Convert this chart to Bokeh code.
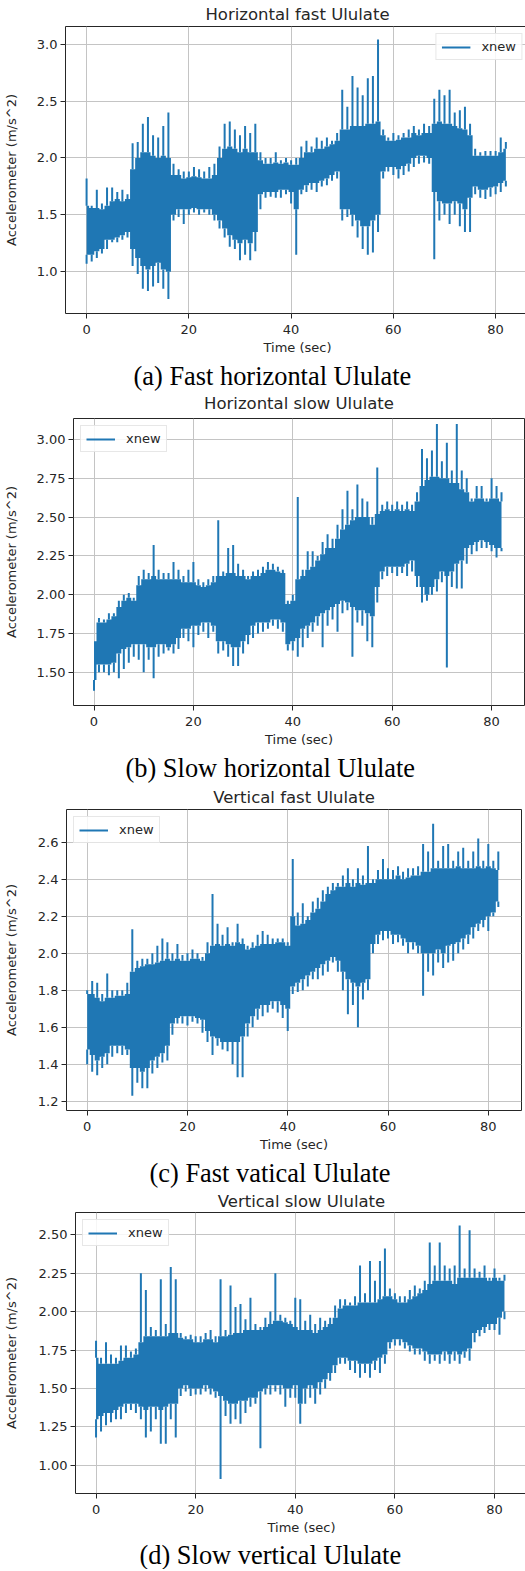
from bokeh.plotting import figure
from bokeh.layouts import column
from bokeh.models import Range1d, FixedTicker, Title, Legend, LegendItem, PrintfTickFormatter
from bokeh.embed import file_html
from bokeh.resources import INLINE

time_sec = list(range(83))
x_ticks = [0, 20, 40, 60, 80]

# (a) Horizontal fast Ululate
a_hi = [1.82,1.58,1.72,1.60,1.74,1.74,1.70,1.72,1.68,2.13, 2.14,2.30,2.36,2.20,2.18,2.28,2.40,1.95,1.90,1.88,
        1.88,1.92,1.90,1.88,1.92,1.95,2.10,2.30,2.32,2.25, 2.20,2.28,2.22,2.30,2.05,2.00,2.00,2.05,1.98,2.00,
        1.98,2.00,2.10,2.15,2.10,2.18,2.15,2.18,2.15,2.22, 2.60,2.45,2.72,2.62,2.55,2.70,2.72,3.04,2.25,2.18,
        2.22,2.20,2.22,2.25,2.28,2.25,2.30,2.28,2.52,2.60, 2.55,2.60,2.40,2.42,2.45,2.30,2.08,2.05,2.06,2.06,
        2.06,2.18,2.14]
a_top = [1.58,1.56,1.56,1.55,1.58,1.62,1.64,1.62,1.64,1.90, 2.00,2.05,2.05,2.02,2.00,2.02,2.00,1.85,1.85,1.82,
         1.83,1.84,1.83,1.82,1.82,1.85,2.00,2.08,2.10,2.08, 2.05,2.08,2.05,2.05,1.98,1.95,1.95,1.96,1.95,1.96,
         1.94,1.94,2.00,2.05,2.05,2.08,2.08,2.10,2.12,2.15, 2.25,2.25,2.28,2.28,2.28,2.30,2.30,2.32,2.20,2.15,
         2.15,2.16,2.18,2.18,2.22,2.20,2.22,2.22,2.30,2.32, 2.30,2.30,2.28,2.26,2.25,2.20,2.02,2.02,2.02,2.02,
         2.02,2.05,2.08]
a_bot = [1.15,1.15,1.18,1.20,1.28,1.28,1.30,1.32,1.35,1.20, 1.12,1.05,1.02,1.05,1.08,1.02,1.00,1.50,1.55,1.55,
         1.55,1.56,1.55,1.55,1.55,1.50,1.45,1.38,1.32,1.28, 1.25,1.28,1.25,1.35,1.68,1.70,1.70,1.70,1.72,1.72,
         1.70,1.55,1.72,1.76,1.78,1.78,1.80,1.82,1.85,1.88, 1.55,1.55,1.50,1.45,1.40,1.40,1.45,1.50,1.88,1.92,
         1.92,1.90,1.93,1.95,2.00,2.02,2.02,2.00,1.70,1.62, 1.60,1.60,1.62,1.60,1.55,1.65,1.75,1.72,1.72,1.74,
         1.75,1.78,1.80]
a_lo = [1.07,1.09,1.12,1.16,1.20,1.26,1.26,1.28,1.30,1.05, 0.98,0.85,0.83,0.87,0.90,0.85,0.76,1.45,1.48,1.42,
        1.50,1.52,1.50,1.52,1.50,1.45,1.38,1.30,1.22,1.20, 1.10,1.15,1.10,1.18,1.55,1.65,1.66,1.65,1.65,1.68,
        1.60,1.15,1.68,1.70,1.72,1.70,1.75,1.76,1.80,1.82, 1.45,1.48,1.40,1.30,1.20,1.15,1.17,1.35,1.82,1.88,
        1.85,1.82,1.85,1.88,1.92,1.95,1.96,1.95,1.11,1.45, 1.50,1.42,1.50,1.40,1.35,1.35,1.68,1.65,1.64,1.66,
        1.68,1.70,1.75]
a_yticks = [1.0, 1.5, 2.0, 2.5, 3.0]
a_ylabels = ["1.0", "1.5", "2.0", "2.5", "3.0"]

# (b) Horizontal slow Ululate
b_hi = [1.70,1.85,1.84,1.88,1.88,1.96,2.00,2.01,1.98,2.12, 2.16,2.14,2.32,2.16,2.14,2.14,2.21,2.16,2.12,2.16,
        2.21,2.10,2.08,2.10,2.12,2.48,2.15,2.30,2.32,2.20, 2.16,2.12,2.15,2.16,2.18,2.21,2.20,2.18,2.16,1.96,
        2.00,2.63,2.16,2.28,2.28,2.25,2.34,2.39,2.36,2.45, 2.55,2.67,2.55,2.71,2.62,2.60,2.50,2.82,2.58,2.60,
        2.58,2.60,2.58,2.60,2.58,2.66,2.94,2.88,2.93,3.10, 2.86,2.98,2.80,3.10,2.80,2.75,2.62,2.70,2.70,2.62,
        2.75,2.70,2.66]
b_top = [1.70,1.82,1.82,1.84,1.86,1.92,1.96,1.98,1.96,2.06, 2.10,2.10,2.12,2.10,2.10,2.10,2.10,2.10,2.08,2.08,
         2.08,2.06,2.05,2.06,2.08,2.12,2.12,2.14,2.14,2.12, 2.12,2.10,2.12,2.12,2.14,2.16,2.16,2.15,2.14,1.94,
         1.96,2.10,2.12,2.16,2.18,2.22,2.26,2.30,2.30,2.36, 2.42,2.45,2.48,2.50,2.50,2.50,2.45,2.52,2.54,2.55,
         2.54,2.55,2.54,2.55,2.54,2.60,2.70,2.74,2.76,2.76, 2.75,2.75,2.72,2.72,2.68,2.66,2.60,2.62,2.62,2.60,
         2.62,2.62,2.60]
b_bot = [1.45,1.55,1.55,1.55,1.56,1.62,1.65,1.66,1.68,1.68, 1.68,1.66,1.66,1.68,1.68,1.66,1.68,1.72,1.78,1.78,
         1.80,1.80,1.82,1.82,1.80,1.70,1.70,1.68,1.66,1.66, 1.70,1.74,1.80,1.82,1.82,1.82,1.84,1.84,1.82,1.68,
         1.70,1.72,1.78,1.80,1.82,1.86,1.88,1.90,1.92,1.94, 1.96,1.95,1.92,1.90,1.90,1.88,1.86,2.05,2.15,2.18,
         2.18,2.18,2.18,2.20,2.22,2.12,2.05,2.00,2.05,2.10, 2.15,2.12,2.15,2.20,2.22,2.30,2.32,2.34,2.35,2.34,
         2.32,2.30,2.30]
b_lo = [1.38,1.50,1.50,1.48,1.50,1.46,1.52,1.56,1.60,1.58, 1.50,1.58,1.46,1.60,1.62,1.64,1.62,1.65,1.72,1.70,
        1.66,1.74,1.76,1.72,1.76,1.62,1.64,1.60,1.54,1.54, 1.62,1.68,1.72,1.75,1.76,1.78,1.80,1.78,1.76,1.64,
        1.64,1.60,1.66,1.72,1.76,1.80,1.66,1.80,1.84,1.76, 1.88,1.90,1.60,1.82,1.80,1.70,1.66,1.95,2.10,2.12,
        2.14,2.12,2.14,2.12,2.15,2.05,1.95,1.96,2.00,2.02, 2.08,1.53,2.05,2.04,2.04,2.20,2.26,2.28,2.30,2.30,
        2.28,2.24,2.28]
b_yticks = [1.5, 1.75, 2.0, 2.25, 2.5, 2.75, 3.0]
b_ylabels = ["1.50", "1.75", "2.00", "2.25", "2.50", "2.75", "3.00"]

# (c) Vertical fast Ululate
c_hi = [1.80,1.85,1.84,1.78,1.89,1.80,1.80,1.80,1.84,2.13, 1.96,1.97,1.97,2.00,2.04,2.08,2.06,2.00,2.05,1.99,
        2.00,2.02,2.00,1.98,2.06,2.32,2.16,2.10,2.14,2.06, 2.16,2.08,2.04,2.06,2.10,2.12,2.10,2.08,2.08,2.08,
        2.06,2.51,2.22,2.27,2.20,2.28,2.30,2.34,2.36,2.38, 2.38,2.42,2.46,2.40,2.46,2.42,2.58,2.40,2.45,2.51,
        2.46,2.45,2.47,2.44,2.46,2.46,2.47,2.59,2.55,2.70, 2.50,2.58,2.59,2.50,2.55,2.57,2.50,2.55,2.62,2.50,
        2.59,2.50,2.55]
c_top = [1.78,1.78,1.76,1.74,1.76,1.76,1.77,1.77,1.78,1.90, 1.92,1.93,1.94,1.94,1.95,1.96,1.97,1.96,1.97,1.96,
         1.96,1.97,1.97,1.96,2.00,2.04,2.05,2.04,2.05,2.04, 2.06,2.05,2.02,2.03,2.04,2.05,2.05,2.05,2.06,2.06,
         2.04,2.20,2.15,2.16,2.18,2.22,2.24,2.28,2.32,2.34, 2.36,2.36,2.38,2.36,2.38,2.37,2.38,2.38,2.40,2.40,
         2.40,2.40,2.42,2.40,2.41,2.42,2.42,2.44,2.44,2.46, 2.46,2.46,2.46,2.46,2.47,2.46,2.46,2.46,2.47,2.46,
         2.47,2.46,2.45]
c_bot = [1.48,1.45,1.42,1.44,1.46,1.50,1.50,1.50,1.48,1.38, 1.38,1.36,1.38,1.42,1.44,1.46,1.50,1.62,1.65,1.66,
         1.66,1.66,1.65,1.64,1.58,1.55,1.54,1.52,1.52,1.52, 1.52,1.55,1.62,1.66,1.70,1.72,1.72,1.74,1.74,1.72,
         1.70,1.82,1.84,1.86,1.88,1.90,1.92,1.94,1.96,1.98, 1.96,1.90,1.86,1.84,1.82,1.84,1.86,2.05,2.10,2.12,
         2.12,2.10,2.10,2.08,2.06,2.06,2.04,2.00,2.00,2.00, 2.02,2.00,2.04,2.05,2.06,2.08,2.10,2.14,2.16,2.18,
         2.20,2.22,2.28]
c_lo = [1.40,1.36,1.34,1.38,1.40,1.44,1.46,1.45,1.45,1.23, 1.30,1.27,1.27,1.35,1.38,1.41,1.42,1.56,1.62,1.62,
        1.61,1.63,1.62,1.57,1.52,1.45,1.50,1.48,1.47,1.40, 1.33,1.33,1.55,1.60,1.64,1.66,1.68,1.70,1.68,1.65,
        1.58,1.78,1.79,1.80,1.82,1.86,1.86,1.88,1.90,1.95, 1.90,1.80,1.67,1.72,1.60,1.75,1.80,2.00,2.05,2.07,
        2.08,2.05,2.06,2.04,2.00,2.02,2.00,1.77,1.90,1.88, 1.95,1.92,1.95,1.96,2.00,2.02,2.05,2.08,2.12,2.14,
        2.12,2.20,2.25]
c_yticks = [1.2, 1.4, 1.6, 1.8, 2.0, 2.2, 2.4, 2.6]
c_ylabels = ["1.2", "1.4", "1.6", "1.8", "2.0", "2.2", "2.4", "2.6"]

# (d) Vertical slow Ululate
d_hi = [1.81,1.70,1.80,1.72,1.70,1.78,1.78,1.74,1.76,2.25, 2.14,1.90,1.88,2.21,1.92,2.29,2.21,1.86,1.84,1.85,
        1.84,1.84,1.86,1.88,1.84,2.21,1.88,2.17,2.03,2.05, 1.95,2.09,1.92,1.90,1.96,2.00,2.25,1.98,1.96,1.94,
        2.09,2.08,1.94,1.98,1.92,1.96,1.94,1.96,2.04,2.08, 2.08,2.06,2.10,2.30,2.12,2.33,2.20,2.33,2.41,2.15,
        2.12,2.10,2.10,2.14,2.17,2.15,2.20,2.45,2.30,2.45, 2.30,2.28,2.30,2.56,2.28,2.53,2.28,2.26,2.30,2.22,
        2.28,2.22,2.24]
d_top = [1.70,1.66,1.66,1.66,1.66,1.68,1.70,1.70,1.72,1.80, 1.84,1.84,1.84,1.84,1.84,1.86,1.86,1.83,1.82,1.82,
         1.80,1.80,1.82,1.82,1.80,1.84,1.84,1.85,1.86,1.86, 1.88,1.88,1.88,1.88,1.90,1.92,1.94,1.94,1.93,1.92,
         1.90,1.88,1.88,1.88,1.86,1.88,1.90,1.92,1.96,2.02, 2.04,2.04,2.04,2.06,2.06,2.06,2.06,2.08,2.10,2.10,
         2.08,2.06,2.06,2.08,2.10,2.12,2.14,2.18,2.20,2.20, 2.20,2.20,2.18,2.22,2.22,2.22,2.22,2.22,2.22,2.20,
         2.22,2.20,2.20]
d_bot = [1.30,1.32,1.34,1.34,1.36,1.38,1.40,1.40,1.40,1.38, 1.36,1.38,1.38,1.36,1.38,1.40,1.40,1.50,1.52,1.50,
         1.50,1.50,1.52,1.50,1.48,1.45,1.42,1.40,1.40,1.42, 1.42,1.44,1.44,1.48,1.50,1.52,1.52,1.52,1.50,1.50,
         1.52,1.40,1.50,1.52,1.50,1.54,1.56,1.60,1.65,1.70, 1.70,1.68,1.68,1.66,1.66,1.66,1.68,1.70,1.72,1.80,
         1.82,1.82,1.80,1.78,1.76,1.76,1.74,1.72,1.72,1.72, 1.74,1.72,1.74,1.72,1.74,1.76,1.86,1.88,1.90,1.92,
         1.92,1.96,2.00]
d_lo = [1.18,1.22,1.26,1.28,1.30,1.30,1.34,1.36,1.34,1.30, 1.18,1.22,1.30,1.14,1.14,1.30,1.18,1.45,1.48,1.45,
        1.46,1.46,1.48,1.46,1.44,0.91,1.32,1.27,1.30,1.27, 1.34,1.38,1.40,1.11,1.46,1.46,1.48,1.46,1.38,1.44,
        1.44,1.27,1.40,1.44,1.40,1.46,1.50,1.55,1.60,1.66, 1.66,1.62,1.60,1.57,1.60,1.57,1.62,1.60,1.66,1.76,
        1.78,1.78,1.76,1.74,1.72,1.72,1.68,1.66,1.68,1.66, 1.68,1.66,1.68,1.66,1.70,1.68,1.80,1.84,1.86,1.88,
        1.88,1.85,1.95]
d_yticks = [1.0, 1.25, 1.5, 1.75, 2.0, 2.25, 2.5]
d_ylabels = ["1.00", "1.25", "1.50", "1.75", "2.00", "2.25", "2.50"]

titles = ["Horizontal fast Ululate", "Horizontal slow Ululate",
          "Vertical fast Ululate", "Vertical slow Ululate"]
captions = ["(a) Fast horizontal Ululate", "(b) Slow horizontal Ululate",
            "(c) Fast vatical Ululate", "(d) Slow vertical Ululate"]

BLUE = "#1f77b4"
TXT = "#262626"

panels = [
    dict(hi=a_hi, top=a_top, bot=a_bot, lo=a_lo, yt=a_yticks, yl=a_ylabels, fmt="%.1f",
         yr=(0.633, 3.155), fw=464, fh=287, bl=61, br=0, bt=26, bb=45,
         leg="top_right", t_va="bottom", t_sd=4.5, prev_off=None, ystd=15),
    dict(hi=b_hi, top=b_top, bot=b_bot, lo=b_lo, yt=b_yticks, yl=b_ylabels, fmt="%.2f",
         yr=(1.285, 3.136), fw=451, fh=287, bl=69, br=5, bt=60, bb=45,
         leg="top_left", t_va="top", t_sd=7, prev_off=60, ystd=15),
    dict(hi=c_hi, top=c_top, bot=c_bot, lo=c_lo, yt=c_yticks, yl=c_ylabels, fmt="%.1f",
         yr=(1.15, 2.777), fw=455, fh=301, bl=64, br=6, bt=59, bb=45,
         leg="top_left", t_va="bottom", t_sd=6, prev_off=59, ystd=16),
    dict(hi=d_hi, top=d_top, bot=d_bot, lo=d_lo, yt=d_yticks, yl=d_ylabels, fmt="%.2f",
         yr=(0.816, 2.645), fw=452, fh=281, bl=73, br=0, bt=57, bb=76,
         leg="top_left", t_va="bottom", t_sd=4, prev_off=74, ystd=17),
]


def caption_title(text, off, va="bottom", sd=0):
    return Title(text=text, text_font="Liberation Serif", text_font_size="26.4px",
                 text_font_style="normal", text_color="black", align="left",
                 offset=off, standoff=sd, vertical_align=va)


figs = []
for i, cfg in enumerate(panels):
    p = figure(frame_width=cfg["fw"], frame_height=cfg["fh"], title=None,
               x_range=Range1d(-4.125, 86.625), y_range=Range1d(*cfg["yr"]),
               output_backend="svg", toolbar_location=None,
               min_border_left=cfg["bl"], min_border_right=cfg["br"],
               min_border_top=cfg["bt"], min_border_bottom=cfg["bb"])
    p.frame_align = False

    # panel title (nearest the frame)
    p.add_layout(Title(text=titles[i], text_font="DejaVu Sans", text_font_size="16.5px",
                       text_font_style="normal", text_color=TXT, align="center",
                       standoff=cfg["t_sd"], vertical_align=cfg["t_va"]), "above")
    # caption of the previous panel sits above this panel's title
    if cfg["prev_off"] is not None:
        p.add_layout(caption_title(captions[i - 1], cfg["prev_off"]), "above")

    p.varea_step(x=time_sec, y1=cfg["bot"], y2=cfg["top"], step_mode="center",
                 fill_color=BLUE, fill_alpha=1.0)
    seg = p.segment(x0=time_sec, y0=cfg["top"], x1=time_sec, y1=cfg["hi"],
                    line_color=BLUE, line_width=2)
    p.segment(x0=time_sec, y0=cfg["bot"], x1=time_sec, y1=cfg["lo"],
              line_color=BLUE, line_width=2)

    p.xaxis.ticker = FixedTicker(ticks=x_ticks)
    p.yaxis.ticker = FixedTicker(ticks=cfg["yt"])
    p.yaxis.formatter = PrintfTickFormatter(format=cfg["fmt"])
    p.yaxis.major_label_overrides = {t: l for t, l in zip(cfg["yt"], cfg["yl"])}
    for ax in (p.xaxis[0], p.yaxis[0]):
        ax.axis_line_color = None
        ax.major_tick_out = 5
        ax.major_tick_in = 0
        ax.minor_tick_line_color = None
        ax.major_tick_line_color = TXT
        ax.major_label_text_font = "DejaVu Sans"
        ax.major_label_text_font_size = "13px"
        ax.major_label_text_color = TXT
        ax.axis_label_text_font = "DejaVu Sans"
        ax.axis_label_text_font_size = "13px"
        ax.axis_label_text_font_style = "normal"
        ax.axis_label_text_color = TXT
    p.xaxis.major_label_standoff = 6
    p.yaxis.major_label_standoff = 3
    p.xaxis.axis_label = "Time (sec)"
    p.xaxis.axis_label_standoff = 3
    p.yaxis.axis_label = "Accelerometer (m/s^2)"
    p.yaxis.axis_label_standoff = cfg["ystd"]

    p.grid.grid_line_color = "#c4c4c4"
    p.grid.grid_line_width = 1
    p.outline_line_color = TXT
    p.outline_line_width = 1
    p.background_fill_color = "white"
    p.border_fill_color = "white"

    leg = Legend(items=[LegendItem(label="xnew", renderers=[seg])],
                 location=cfg["leg"], margin=7, padding=5, spacing=0,
                 label_text_font="DejaVu Sans", label_text_font_size="13px",
                 label_text_color=TXT, glyph_width=29, glyph_height=14,
                 label_height=14, label_standoff=11,
                 border_line_color="#d0d0d0", border_line_width=1,
                 background_fill_alpha=0.85)
    p.add_layout(leg)

    if i == len(panels) - 1:
        p.add_layout(caption_title(captions[i], 64, va="bottom", sd=0), "below")
    figs.append(p)

layout = column(*figs, spacing=0)
open("out.html", "w").write(file_html(layout, INLINE))
